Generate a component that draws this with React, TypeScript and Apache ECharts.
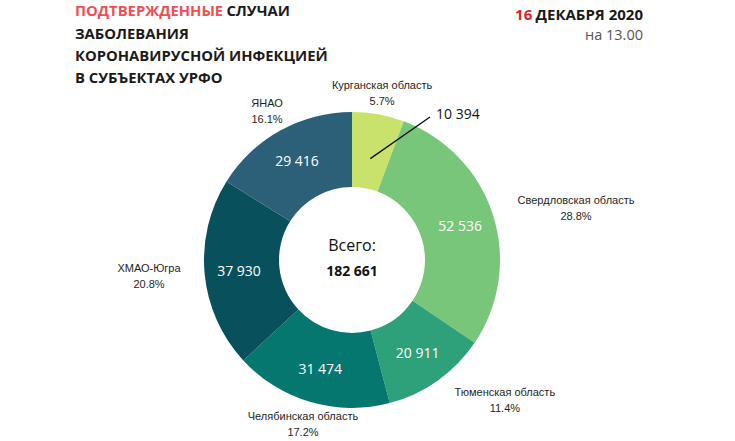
import React, { useEffect, useRef } from "react";
import * as echarts from "echarts";

// ---- data ----
const REGIONS = [
  "Курганская область",
  "Свердловская область",
  "Тюменская область",
  "Челябинская область",
  "ХМАО-Югра",
  "ЯНАО",
];
const CASES = [10394, 52536, 20911, 31474, 37930, 29416];
const SLICE_COLORS = ["#c9e26b", "#78c679", "#2ea07a", "#05776e", "#07505c", "#2c5f78"];
const TITLE_RED = "ПОДТВЕРЖДЕННЫЕ";
const TITLE_REST = ["СЛУЧАИ", "ЗАБОЛЕВАНИЯ", "КОРОНАВИРУСНОЙ ИНФЕКЦИЕЙ", "В СУБЪЕКТАХ УРФО"];
const DATE_DAY = "16";
const DATE_REST = "ДЕКАБРЯ 2020";
const DATE_TIME = "на 13.00";
const TOTAL_LABEL = "Всего:";

// ---- layout ----
const CX = 352;
const CY = 260;
const R_IN = 73;
const R_OUT = 148;
// label anchor in polar form [angle from top clockwise (deg), radius]
const LABEL_POLAR: [number, number][] = [
  [10.2, 170],
  [76.9, 230],
  [132.4, 207],
  [196.6, 171.6],
  [265.5, 203.6],
  [330.3, 171.5],
];

const fmt = (n: number) => String(n).replace(/\B(?=(\d{3})+(?!\d))/g, " ");
const polar = (deg: number, r: number) => {
  const a = (deg * Math.PI) / 180;
  return [CX + r * Math.sin(a), CY - r * Math.cos(a)];
};

export default function App() {
  const ref = useRef<HTMLDivElement>(null);
  useEffect(() => {
    if (!ref.current) return;
    const chart = echarts.init(ref.current, undefined, { renderer: "svg" });
    const total = CASES.reduce((a, b) => a + b, 0);
    const pct = CASES.map((v) => ((v / total) * 100).toFixed(1));
    const firstMid = ((CASES[0] / total) * 360) / 2;
    const lineStart = polar(firstMid, 103);
    const lineEnd = [CX + 78, CY - 143];

    const valueData = CASES.map((v, i) => ({
      name: REGIONS[i],
      value: v,
      itemStyle: { color: SLICE_COLORS[i] },
      label: { show: i !== 0 },
    }));
    const nameData = CASES.map((v, i) => ({ name: REGIONS[i], value: v }));

    chart.setOption({
      animation: false,
      backgroundColor: "#ffffff",
      series: [
        {
          type: "pie",
          center: [CX, CY],
          radius: [R_IN, R_OUT],
          startAngle: 90,
          clockwise: true,
          silent: true,
          avoidLabelOverlap: false,
          itemStyle: { borderWidth: 0 },
          label: {
            show: true,
            position: "inside",
            formatter: (p: any) => fmt(p.value),
            color: "#ffffff",
            fontFamily: "Open Sans",
            fontSize: 14,
          },
          labelLine: { show: false },
          data: valueData,
        },
        {
          type: "pie",
          center: [CX, CY],
          radius: [R_IN, R_OUT],
          startAngle: 90,
          clockwise: true,
          silent: true,
          avoidLabelOverlap: false,
          itemStyle: { color: "rgba(0,0,0,0)", borderWidth: 0 },
          label: {
            show: true,
            position: "outside",
            formatter: (p: any) => `${p.name}\n${pct[p.dataIndex]}%`,
            color: "#1e1e1e",
            fontFamily: "Liberation Sans",
            fontSize: 11,
            lineHeight: 16,
            align: "center",
          },
          labelLine: { show: false },
          labelLayout: (p: any) => {
            const [a, r] = LABEL_POLAR[p.dataIndex];
            const [x, y] = polar(a, r);
            return { x, y, align: "center", verticalAlign: "middle" };
          },
          data: nameData,
        },
      ],
      graphic: [
        {
          type: "text",
          left: 75,
          top: 3,
          style: {
            text:
              `{r|${TITLE_RED}} {b|${TITLE_REST[0]}}\n` +
              TITLE_REST.slice(1).map((t) => `{b|${t}}`).join("\n"),
            rich: {
              r: { fill: "#ee4f55", fontFamily: "Open Sans", fontWeight: "bold", fontSize: 14.8, lineHeight: 22.3 },
              b: { fill: "#1a1a1a", fontFamily: "Open Sans", fontWeight: "bold", fontSize: 14.8, lineHeight: 22.3 },
            },
          },
        },
        {
          type: "text",
          x: 643,
          y: 14,
          style: {
            text: `{r|${DATE_DAY}} {b|${DATE_REST}}`,
            align: "right",
            verticalAlign: "middle",
            rich: {
              r: { fill: "#d9262c", fontFamily: "Open Sans", fontWeight: "bold", fontSize: 15, lineHeight: 15 },
              b: { fill: "#1a1a1a", fontFamily: "Open Sans", fontWeight: "bold", fontSize: 15, lineHeight: 15 },
            },
          },
        },
        {
          type: "text",
          x: 643,
          y: 34,
          style: {
            text: DATE_TIME,
            align: "right",
            verticalAlign: "middle",
            fill: "#555555",
            fontFamily: "Open Sans",
            fontSize: 14.5,
            lineHeight: 15,
          },
        },
        {
          type: "text",
          x: CX,
          y: 245,
          style: {
            text: TOTAL_LABEL,
            align: "center",
            verticalAlign: "middle",
            fill: "#111111",
            fontFamily: "Open Sans",
            fontSize: 16,
          },
        },
        {
          type: "text",
          x: CX,
          y: 270,
          style: {
            text: fmt(total),
            align: "center",
            verticalAlign: "middle",
            fill: "#111111",
            fontFamily: "Open Sans",
            fontWeight: "bold",
            fontSize: 14,
          },
        },
        {
          type: "line",
          shape: { x1: lineStart[0], y1: lineStart[1], x2: lineEnd[0], y2: lineEnd[1] },
          style: { stroke: "#111111", lineWidth: 1.3 },
          z: 100,
        },
        {
          type: "text",
          x: lineEnd[0] + 6,
          y: lineEnd[1] - 4,
          style: {
            text: fmt(CASES[0]),
            align: "left",
            verticalAlign: "middle",
            fill: "#111111",
            fontFamily: "Open Sans",
            fontSize: 14,
          },
          z: 100,
        },
      ],
    });
    return () => chart.dispose();
  }, []);
  return (
    <div
      ref={ref}
      style={{ position: "absolute", left: 0, top: 0, width: 735, height: 441 }}
    />
  );
}
